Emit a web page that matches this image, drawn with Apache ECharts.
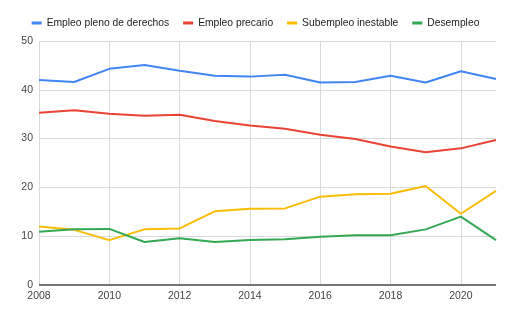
<!DOCTYPE html>
<html>
<head>
<meta charset="utf-8">
<script src="https://cdn.jsdelivr.net/npm/echarts@6/dist/echarts.min.js"></script>
<style>
  html, body { margin: 0; padding: 0; background: #fff; }
  #chart { width: 511px; height: 316px; }
</style>
</head>
<body>
<div id="chart"></div>
<script>
const years = [2008, 2009, 2010, 2011, 2012, 2013, 2014, 2015, 2016, 2017, 2018, 2019, 2020, 2021]
const seriesNames = ['Empleo pleno de derechos', 'Empleo precario', 'Subempleo inestable', 'Desempleo']
const plenoValues = [42.0, 41.6, 44.3, 45.1, 43.9, 42.9, 42.7, 43.1, 41.5, 41.6, 42.9, 41.5, 43.8, 42.2]
const precarioValues = [35.3, 35.8, 35.1, 34.7, 34.9, 33.6, 32.7, 32.0, 30.8, 29.9, 28.4, 27.2, 28.0, 29.7]
const subempleoValues = [12.0, 11.3, 9.2, 11.4, 11.6, 15.1, 15.6, 15.7, 18.1, 18.6, 18.7, 20.3, 14.6, 19.3]
const desempleoValues = [10.9, 11.4, 11.5, 8.8, 9.6, 8.8, 9.2, 9.4, 9.9, 10.2, 10.2, 11.4, 14.0, 9.2]
const colors = ['#4285F4', '#EA4335', '#FBBC04', '#34A853']

const allValues = [plenoValues, precarioValues, subempleoValues, desempleoValues]

const myChart = echarts.init(document.getElementById('chart'))
const option = {
  animation: false,
  color: colors,
  textStyle: { fontFamily: '"Liberation Sans", Arial, sans-serif' },
  legend: {
    top: 13,
    left: 'center',
    width: 500,
    itemWidth: 10,
    itemHeight: 3,
    itemGap: 14,
    icon: 'rect',
    textStyle: { fontSize: 10.3, color: '#222' },
    data: seriesNames
  },
  grid: {
    left: 39,
    right: 15,
    top: 41,
    bottom: 31,
    containLabel: false
  },
  xAxis: {
    type: 'value',
    min: 2008,
    max: 2021,
    interval: 2,
    axisLine: { show: false },
    axisTick: { show: false },
    axisLabel: {
      color: '#444',
      fontSize: 10.5,
      margin: 6,
      showMaxLabel: false,
      formatter: function (v) { return String(v) }
    },
    splitLine: { show: true, showMaxLine: false, lineStyle: { color: '#dadada', width: 1 } }
  },
  yAxis: {
    type: 'value',
    min: 0,
    max: 50,
    interval: 10,
    axisLine: { show: false },
    axisTick: { show: false },
    axisLabel: { color: '#444', fontSize: 10.5, margin: 6 },
    splitLine: { lineStyle: { color: '#dadada', width: 1 } }
  },
  series: seriesNames.map(function (name, i) {
    const s = {
      name: name,
      type: 'line',
      symbol: 'none',
      lineStyle: { width: 2 },
      data: years.map(function (y, j) { return [y, allValues[i][j]] })
    }
    if (i === 0) {
      s.markLine = {
        silent: true,
        symbol: 'none',
        label: { show: false },
        lineStyle: { color: '#777', width: 2, type: 'solid' },
        data: [{ yAxis: 0 }]
      }
    }
    return s
  })
}
myChart.setOption(option)
</script>
</body>
</html>
